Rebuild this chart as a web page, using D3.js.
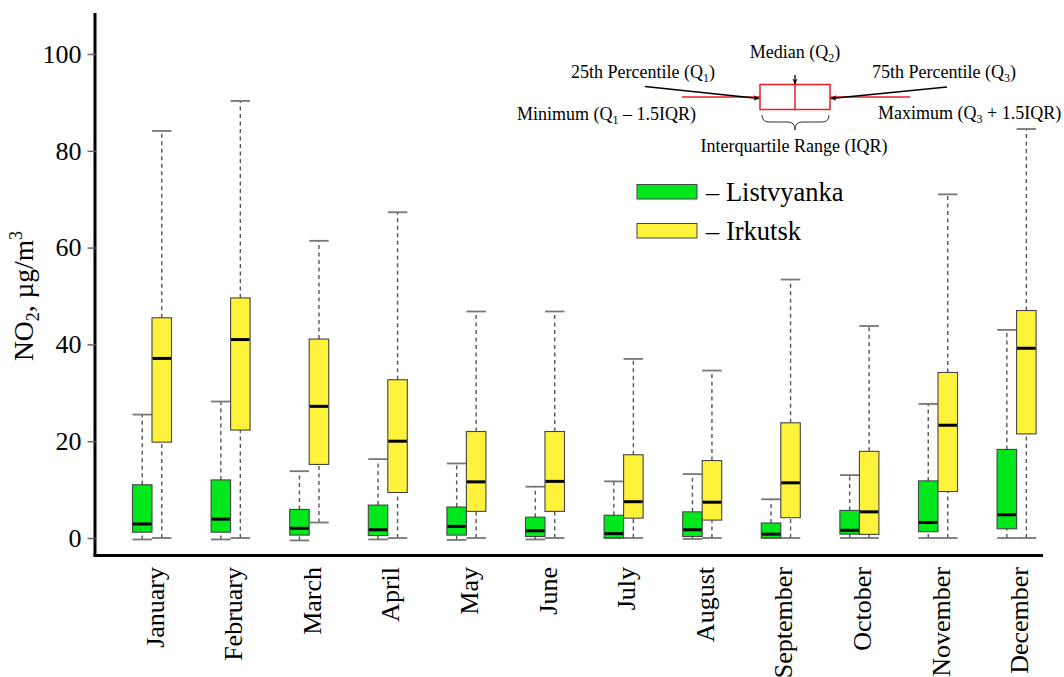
<!DOCTYPE html>
<html>
<head>
<meta charset="utf-8">
<script src="https://cdn.jsdelivr.net/npm/d3@7"></script>
<style>
  html, body { margin: 0; padding: 0; background: #fff; }
  svg text { font-family: "Liberation Serif", "Times New Roman", serif !important; }
</style>
</head>
<body>
<svg id="chart" width="1064" height="677"></svg>
<script>
// Monthly NO2 distributions (µg/m³): whisker low, Q1, median, Q3, whisker high
const months = ["January", "February", "March", "April", "May", "June",
                "July", "August", "September", "October", "November", "December"];

const listvyankaLow = [-0.3, -0.3, -0.5, -0.3, -0.4, -0.3, 0, -0.2, 0, 0, 0, 0];
const listvyankaQ1  = [1.2, 1.2, 0.6, 0.5, 0.6, 0.3, 0, 0.3, 0, 0.8, 1.3, 1.9];
const listvyankaMed = [2.9, 3.9, 2.0, 1.7, 2.4, 1.5, 0.9, 1.7, 0.8, 1.6, 3.2, 4.8];
const listvyankaQ3  = [11.0, 12.0, 5.9, 6.8, 6.4, 4.3, 4.7, 5.4, 3.1, 5.7, 11.8, 18.3];
const listvyankaHigh = [25.5, 28.2, 13.8, 16.3, 15.4, 10.6, 11.7, 13.2, 8.0, 13.0, 27.7, 43.0];

const irkutskLow = [0, 0, 3.2, 0, 0, 0, 0, 0, 0, 0, 0, 0];
const irkutskQ1  = [19.8, 22.3, 15.2, 9.4, 5.5, 5.5, 4.1, 3.7, 4.2, 0.75, 9.6, 21.5];
const irkutskMed = [37.1, 41.0, 27.2, 20.0, 11.6, 11.7, 7.5, 7.4, 11.4, 5.4, 23.3, 39.2];
const irkutskQ3  = [45.5, 49.6, 41.1, 32.7, 22.0, 22.0, 17.2, 16.0, 23.8, 17.9, 34.2, 47.0];
const irkutskHigh = [84.1, 90.3, 61.4, 67.3, 46.8, 46.8, 37.0, 34.6, 53.4, 43.8, 71.0, 84.5];

const yTicks = [0, 20, 40, 60, 80, 100];

const series = [
  { name: "Listvyanka", color: "#00e81c", side: -1,
    low: listvyankaLow, q1: listvyankaQ1, med: listvyankaMed, q3: listvyankaQ3, high: listvyankaHigh },
  { name: "Irkutsk", color: "#fff23a", side: 1,
    low: irkutskLow, q1: irkutskQ1, med: irkutskMed, q3: irkutskQ3, high: irkutskHigh }
];

const svg = d3.select("#chart");

const x = d3.scalePoint().domain(months).range([152, 1016.6]);
const y = d3.scaleLinear().domain([0, 100]).range([538, 54]);
const boxW = 19.5;

// Axis frame
svg.append("line").attr("x1", 95).attr("x2", 95).attr("y1", 13).attr("y2", 556)
  .attr("stroke", "#000").attr("stroke-width", 3);
svg.append("line").attr("x1", 93.5).attr("x2", 1043).attr("y1", 555.5).attr("y2", 555.5)
  .attr("stroke", "#000").attr("stroke-width", 3);

// Y axis ticks and labels
const yAxis = d3.axisLeft(y).tickValues(yTicks).tickSize(8).tickPadding(6).tickFormat(d3.format("d"));
const gy = svg.append("g").attr("transform", "translate(95.5,0)").call(yAxis);
gy.select(".domain").remove();
gy.selectAll(".tick line").attr("stroke", "#666").attr("stroke-width", 1.5);
gy.selectAll(".tick text").attr("font-size", 26).attr("fill", "#000");

// Y axis title
const yTitle = svg.append("text")
  .attr("transform", "translate(33,296) rotate(-90)")
  .attr("text-anchor", "middle")
  .attr("font-size", 27.5).attr("fill", "#000");
yTitle.append("tspan").text("NO");
yTitle.append("tspan").text("2").attr("font-size", 18).attr("dy", 6);
yTitle.append("tspan").text(", µg/m").attr("dy", -6);
yTitle.append("tspan").text("3").attr("font-size", 18).attr("dy", -11);

// Month labels
svg.append("g").selectAll("text").data(months).join("text")
  .attr("transform", d => `translate(${x(d) + 3},567) rotate(-90)`)
  .attr("text-anchor", "end")
  .attr("dominant-baseline", "central")
  .attr("font-size", 26).attr("fill", "#000")
  .text(d => d);

// Box plots
series.forEach(s => {
  const g = svg.append("g");
  const cx = i => x(months[i]) + s.side * boxW / 2;
  const idx = d3.range(months.length);

  // dashed whiskers
  g.selectAll("line.wlo").data(idx).join("line")
    .attr("x1", cx).attr("x2", cx)
    .attr("y1", i => y(s.low[i])).attr("y2", i => y(s.q1[i]))
    .attr("stroke", "#555").attr("stroke-width", 1.4).attr("stroke-dasharray", "4,3.5");
  g.selectAll("line.whi").data(idx).join("line")
    .attr("x1", cx).attr("x2", cx)
    .attr("y1", i => y(s.q3[i])).attr("y2", i => y(s.high[i]))
    .attr("stroke", "#555").attr("stroke-width", 1.4).attr("stroke-dasharray", "4,3.5");

  // whisker caps
  [s.low, s.high].forEach(arr => {
    g.selectAll(null).data(idx).join("line")
      .attr("x1", i => cx(i) - boxW / 2).attr("x2", i => cx(i) + boxW / 2)
      .attr("y1", i => y(arr[i])).attr("y2", i => y(arr[i]))
      .attr("stroke", "#777").attr("stroke-width", 1.8);
  });

  // boxes
  g.selectAll("rect").data(idx).join("rect")
    .attr("x", i => cx(i) - boxW / 2).attr("width", boxW)
    .attr("y", i => y(s.q3[i])).attr("height", i => y(s.q1[i]) - y(s.q3[i]))
    .attr("fill", s.color).attr("stroke", "#444").attr("stroke-width", 1.1);

  // medians
  g.selectAll("line.med").data(idx).join("line")
    .attr("x1", i => cx(i) - boxW / 2 + 0.5).attr("x2", i => cx(i) + boxW / 2 - 0.5)
    .attr("y1", i => y(s.med[i])).attr("y2", i => y(s.med[i]))
    .attr("stroke", "#000").attr("stroke-width", 3);
});

// Legend
const legend = svg.append("g");
series.forEach((s, k) => {
  const ly = 184.5 + k * 39;
  legend.append("rect").attr("x", 637).attr("y", ly).attr("width", 60).attr("height", 14.5)
    .attr("fill", s.color).attr("stroke", "#444").attr("stroke-width", 1);
  legend.append("text").attr("x", 706).attr("y", ly + 16)
    .attr("font-size", 26.5).attr("fill", "#000")
    .text("\u2013 " + s.name);
});

// Explanatory box-plot diagram
const key = svg.append("g");
const defs = svg.append("defs");
defs.append("marker").attr("id", "arrowhead")
  .attr("viewBox", "0 0 10 10").attr("refX", 9).attr("refY", 5)
  .attr("markerUnits", "userSpaceOnUse")
  .attr("markerWidth", 7).attr("markerHeight", 6).attr("orient", "auto")
  .append("path").attr("d", "M0,0.5 L10,5 L0,9.5 L3,5 z").attr("fill", "#000");

const red = "#ee1c24";
key.append("line").attr("x1", 682).attr("x2", 760).attr("y1", 97).attr("y2", 97)
  .attr("stroke", red).attr("stroke-width", 1.5);
key.append("line").attr("x1", 830).attr("x2", 910).attr("y1", 97).attr("y2", 97)
  .attr("stroke", red).attr("stroke-width", 1.5);
key.append("rect").attr("x", 760).attr("y", 84.5).attr("width", 70).attr("height", 25)
  .attr("fill", "none").attr("stroke", red).attr("stroke-width", 1.5);
key.append("line").attr("x1", 795).attr("x2", 795).attr("y1", 84.5).attr("y2", 109.5)
  .attr("stroke", red).attr("stroke-width", 1.5);

key.append("line").attr("x1", 645).attr("y1", 86.5).attr("x2", 759).attr("y2", 98.5)
  .attr("stroke", "#000").attr("stroke-width", 1.3).attr("marker-end", "url(#arrowhead)");
key.append("line").attr("x1", 947).attr("y1", 87).attr("x2", 831).attr("y2", 98.5)
  .attr("stroke", "#000").attr("stroke-width", 1.3).attr("marker-end", "url(#arrowhead)");
key.append("line").attr("x1", 795).attr("y1", 75).attr("x2", 795).attr("y2", 84)
  .attr("stroke", "#000").attr("stroke-width", 1.3).attr("marker-end", "url(#arrowhead)");

key.append("path")
  .attr("d", "M762,115 Q762,122 769,122 L788,122 Q795,122 795,130 Q795,122 802,122 L822,122 Q829,122 829,115")
  .attr("fill", "none").attr("stroke", "#333").attr("stroke-width", 1);

function keyText(tx, ty, anchor, parts) {
  const t = key.append("text").attr("x", tx).attr("y", ty)
    .attr("text-anchor", anchor).attr("font-size", 18).attr("fill", "#000");
  parts.forEach(p => {
    const ts = t.append("tspan").text(p[0]);
    if (p[1] === "sub") ts.attr("font-size", 12).attr("dy", 4);
    if (p[1] === "back") ts.attr("dy", -4);
  });
}
keyText(795, 58, "middle", [["Median (Q"], ["2", "sub"], [")", "back"]]);
keyText(571, 78, "start", [["25th Percentile (Q"], ["1", "sub"], [")", "back"]]);
keyText(872, 78, "start", [["75th Percentile (Q"], ["3", "sub"], [")", "back"]]);
keyText(517, 120, "start", [["Minimum (Q"], ["1", "sub"], [" \u2013 1.5IQR)", "back"]]);
keyText(878, 119, "start", [["Maximum (Q"], ["3", "sub"], [" + 1.5IQR)", "back"]]);
keyText(794, 152, "middle", [["Interquartile Range (IQR)"]]);
</script>
</body>
</html>
